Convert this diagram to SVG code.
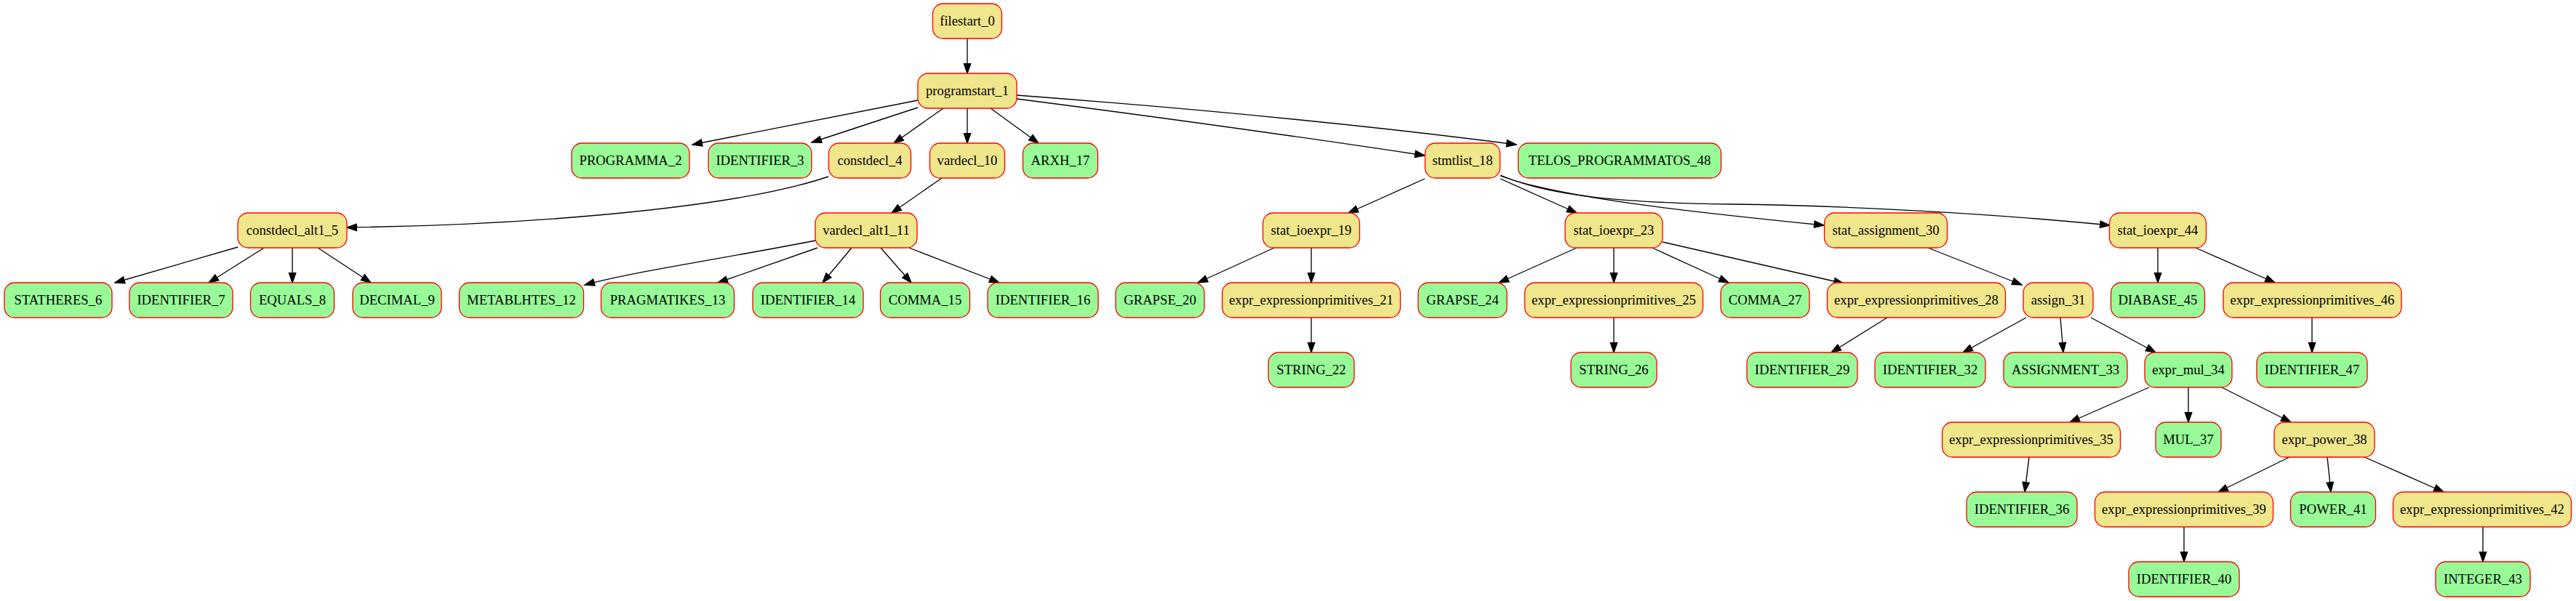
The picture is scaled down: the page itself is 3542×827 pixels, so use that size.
<svg xmlns="http://www.w3.org/2000/svg" width="3542" height="827" viewBox="0 0 3542 827">
<defs>
<style>
.k{fill:#f0e68c;stroke:#ff0000;stroke-width:1.33}
.g{fill:#98fb98;stroke:#ff0000;stroke-width:1.33}
text{font-family:"Liberation Serif","Times New Roman",serif;font-size:18.67px;text-anchor:middle;fill:#000}
.e path{fill:none;stroke:#000;stroke-width:1.33;marker-end:url(#ah)}
</style>
<marker id="ah" markerUnits="userSpaceOnUse" markerWidth="16" markerHeight="12" refX="13.3" refY="4.7" orient="auto" overflow="visible">
<path d="M0,0 L13.3,4.7 L0,9.3 z" fill="#000" stroke="#000" stroke-width="1.33"/>
</marker>
</defs>
<rect width="3542" height="827" fill="#fff"/>
<g class="e" id="edges">
<path d="M1330,53 L1330,101"/>
<path d="M1262,138 L952,199"/>
<path d="M1262,148 L1116,196"/>
<path d="M1297,149 L1229,197"/>
<path d="M1330,149 L1330,197"/>
<path d="M1362,149 L1428,197"/>
<path d="M1398,136 C1600,162 1800,190 1959,214"/>
<path d="M1398,131 C1650,150 1900,175 2085,199"/>
<path d="M1139,243 C1000,290 700,310 477,313"/>
<path d="M327,340 L158,389"/>
<path d="M363,341 L287,389"/>
<path d="M402,341 L402,389"/>
<path d="M437,341 L510,389"/>
<path d="M1295,245 L1226,293"/>
<path d="M1121,331 C1000,355 880,372 804,392"/>
<path d="M1124,341 L987,389"/>
<path d="M1171,341 L1131,389"/>
<path d="M1211,341 L1253,389"/>
<path d="M1250,341 L1374,389"/>
<path d="M1959,246 L1854,293"/>
<path d="M2063,246 L2168,293"/>
<path d="M2063,242 C2150,274 2350,294 2508,310"/>
<path d="M2063,241 C2130,270 2230,279 2380,281 C2550,283 2750,295 2901,310"/>
<path d="M1752,341 L1647,389"/>
<path d="M1803,341 L1803,389"/>
<path d="M1803,437 L1803,485"/>
<path d="M2168,341 L2061,389"/>
<path d="M2219,341 L2219,389"/>
<path d="M2272,341 L2377,389"/>
<path d="M2286,333 L2535,390"/>
<path d="M2219,437 L2219,485"/>
<path d="M2651,341 L2780,392"/>
<path d="M2967,341 L2967,389"/>
<path d="M3019,341 L3128,389"/>
<path d="M2595,437 L2518,485"/>
<path d="M2786,437 L2699,485"/>
<path d="M2833,437 L2837,485"/>
<path d="M2875,437 L2964,485"/>
<path d="M3179,437 L3179,485"/>
<path d="M2955,533 L2846,581"/>
<path d="M3009,533 L3009,581"/>
<path d="M3055,533 L3150,581"/>
<path d="M2790,629 L2784,677"/>
<path d="M3148,629 L3050,677"/>
<path d="M3200,629 L3205,677"/>
<path d="M3251,629 L3360,677"/>
<path d="M3003,725 L3003,773"/>
<path d="M3414,725 L3414,773"/>
</g>
<g id="n0"><rect class="k" x="1282.5" y="5" width="95" height="48" rx="14"/><text x="1330" y="35">filestart_0</text></g>
<g id="n1"><rect class="k" x="1262" y="101" width="136" height="48" rx="14"/><text x="1330" y="131">programstart_1</text></g>
<g id="n2"><rect class="g" x="786" y="197" width="162" height="48" rx="14"/><text x="867" y="227">PROGRAMMA_2</text></g>
<g id="n3"><rect class="g" x="974" y="197" width="142" height="48" rx="14"/><text x="1045" y="227">IDENTIFIER_3</text></g>
<g id="n4"><rect class="k" x="1139.5" y="197" width="113" height="48" rx="14"/><text x="1196" y="227">constdecl_4</text></g>
<g id="n10"><rect class="k" x="1278.5" y="197" width="103" height="48" rx="14"/><text x="1330" y="227">vardecl_10</text></g>
<g id="n17"><rect class="g" x="1406.5" y="197" width="103" height="48" rx="14"/><text x="1458" y="227">ARXH_17</text></g>
<g id="n18"><rect class="k" x="1959.5" y="197" width="103" height="48" rx="14"/><text x="2011" y="227">stmtlist_18</text></g>
<g id="n48"><rect class="g" x="2087.5" y="197" width="279" height="48" rx="14"/><text x="2227" y="227">TELOS_PROGRAMMATOS_48</text></g>
<g id="n5"><rect class="k" x="327" y="293" width="150" height="48" rx="14"/><text x="402" y="323">constdecl_alt1_5</text></g>
<g id="n11"><rect class="k" x="1121" y="293" width="140" height="48" rx="14"/><text x="1191" y="323">vardecl_alt1_11</text></g>
<g id="n19"><rect class="k" x="1736.5" y="293" width="133" height="48" rx="14"/><text x="1803" y="323">stat_ioexpr_19</text></g>
<g id="n23"><rect class="k" x="2152" y="293" width="134" height="48" rx="14"/><text x="2219" y="323">stat_ioexpr_23</text></g>
<g id="n30"><rect class="k" x="2508.5" y="293" width="169" height="48" rx="14"/><text x="2593" y="323">stat_assignment_30</text></g>
<g id="n44"><rect class="k" x="2900.5" y="293" width="133" height="48" rx="14"/><text x="2967" y="323">stat_ioexpr_44</text></g>
<g id="n6"><rect class="g" x="6" y="389" width="148" height="48" rx="14"/><text x="80" y="419">STATHERES_6</text></g>
<g id="n7"><rect class="g" x="178" y="389" width="142" height="48" rx="14"/><text x="249" y="419">IDENTIFIER_7</text></g>
<g id="n8"><rect class="g" x="344.5" y="389" width="115" height="48" rx="14"/><text x="402" y="419">EQUALS_8</text></g>
<g id="n9"><rect class="g" x="485" y="389" width="122" height="48" rx="14"/><text x="546" y="419">DECIMAL_9</text></g>
<g id="n12"><rect class="g" x="631.5" y="389" width="171" height="48" rx="14"/><text x="717" y="419">METABLHTES_12</text></g>
<g id="n13"><rect class="g" x="826.5" y="389" width="183" height="48" rx="14"/><text x="918" y="419">PRAGMATIKES_13</text></g>
<g id="n14"><rect class="g" x="1035" y="389" width="152" height="48" rx="14"/><text x="1111" y="419">IDENTIFIER_14</text></g>
<g id="n15"><rect class="g" x="1210.5" y="389" width="123" height="48" rx="14"/><text x="1272" y="419">COMMA_15</text></g>
<g id="n16"><rect class="g" x="1358" y="389" width="152" height="48" rx="14"/><text x="1434" y="419">IDENTIFIER_16</text></g>
<g id="n20"><rect class="g" x="1534" y="389" width="122" height="48" rx="14"/><text x="1595" y="419">GRAPSE_20</text></g>
<g id="n21"><rect class="k" x="1680.5" y="389" width="245" height="48" rx="14"/><text x="1803" y="419">expr_expressionprimitives_21</text></g>
<g id="n24"><rect class="g" x="1950" y="389" width="122" height="48" rx="14"/><text x="2011" y="419">GRAPSE_24</text></g>
<g id="n25"><rect class="k" x="2096.5" y="389" width="245" height="48" rx="14"/><text x="2219" y="419">expr_expressionprimitives_25</text></g>
<g id="n27"><rect class="g" x="2366" y="389" width="122" height="48" rx="14"/><text x="2427" y="419">COMMA_27</text></g>
<g id="n28"><rect class="k" x="2512.5" y="389" width="245" height="48" rx="14"/><text x="2635" y="419">expr_expressionprimitives_28</text></g>
<g id="n31"><rect class="k" x="2782" y="389" width="96" height="48" rx="14"/><text x="2830" y="419">assign_31</text></g>
<g id="n45"><rect class="g" x="2902.5" y="389" width="129" height="48" rx="14"/><text x="2967" y="419">DIABASE_45</text></g>
<g id="n46"><rect class="k" x="3057" y="389" width="245" height="48" rx="14"/><text x="3179.5" y="419">expr_expressionprimitives_46</text></g>
<g id="n22"><rect class="g" x="1744" y="485" width="118" height="48" rx="14"/><text x="1803" y="515">STRING_22</text></g>
<g id="n26"><rect class="g" x="2160" y="485" width="118" height="48" rx="14"/><text x="2219" y="515">STRING_26</text></g>
<g id="n29"><rect class="g" x="2402" y="485" width="152" height="48" rx="14"/><text x="2478" y="515">IDENTIFIER_29</text></g>
<g id="n32"><rect class="g" x="2578" y="485" width="152" height="48" rx="14"/><text x="2654" y="515">IDENTIFIER_32</text></g>
<g id="n33"><rect class="g" x="2755" y="485" width="170" height="48" rx="14"/><text x="2840" y="515">ASSIGNMENT_33</text></g>
<g id="n34"><rect class="g" x="2949" y="485" width="120" height="48" rx="14"/><text x="3009" y="515">expr_mul_34</text></g>
<g id="n47"><rect class="g" x="3103" y="485" width="152" height="48" rx="14"/><text x="3179" y="515">IDENTIFIER_47</text></g>
<g id="n35"><rect class="k" x="2670.5" y="581" width="245" height="48" rx="14"/><text x="2793" y="611">expr_expressionprimitives_35</text></g>
<g id="n37"><rect class="g" x="2964" y="581" width="90" height="48" rx="14"/><text x="3009" y="611">MUL_37</text></g>
<g id="n38"><rect class="k" x="3127" y="581" width="138" height="48" rx="14"/><text x="3196" y="611">expr_power_38</text></g>
<g id="n36"><rect class="g" x="2704" y="677" width="152" height="48" rx="14"/><text x="2780" y="707">IDENTIFIER_36</text></g>
<g id="n39"><rect class="k" x="2880.5" y="677" width="245" height="48" rx="14"/><text x="3003" y="707">expr_expressionprimitives_39</text></g>
<g id="n41"><rect class="g" x="3149.5" y="677" width="117" height="48" rx="14"/><text x="3208" y="707">POWER_41</text></g>
<g id="n42"><rect class="k" x="3290.5" y="677" width="245" height="48" rx="14"/><text x="3413" y="707">expr_expressionprimitives_42</text></g>
<g id="n40"><rect class="g" x="2927" y="773" width="152" height="48" rx="14"/><text x="3003" y="803">IDENTIFIER_40</text></g>
<g id="n43"><rect class="g" x="3349" y="773" width="130" height="48" rx="14"/><text x="3414" y="803">INTEGER_43</text></g>
</svg>
